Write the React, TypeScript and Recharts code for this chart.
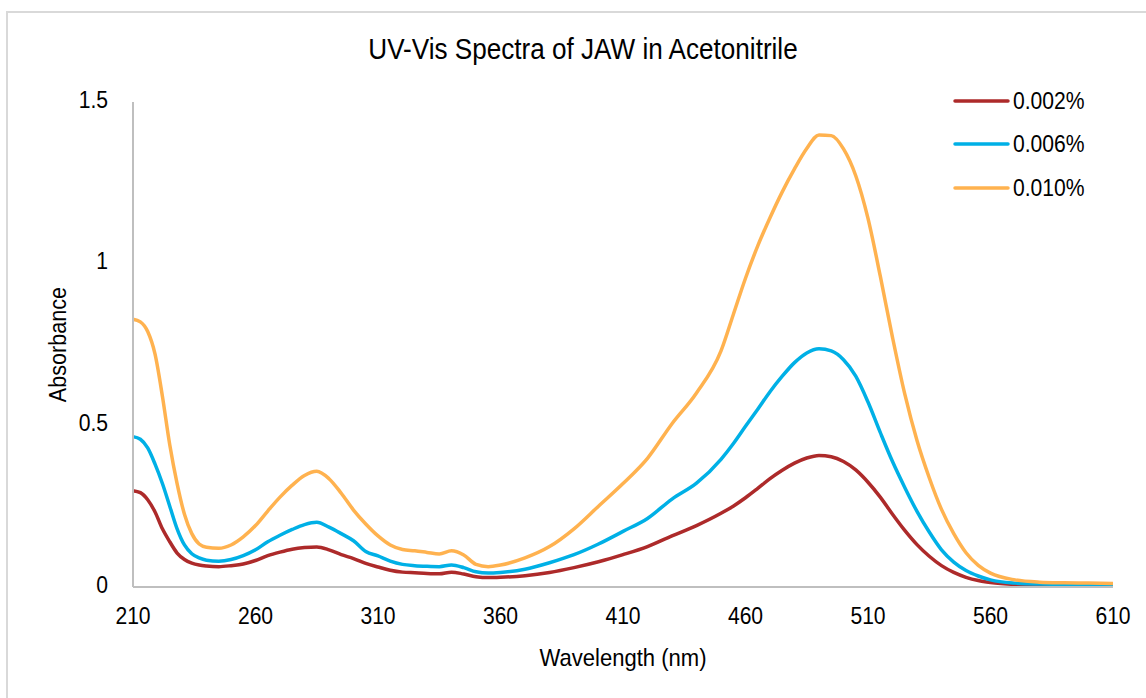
import { LineChart, Line, XAxis, YAxis, Legend } from 'recharts';

const wavelengths = [
  210, 213, 216, 219, 222, 225, 228, 231, 234, 237, 240, 245, 250, 255, 260, 265, 270, 275, 280, 285,
  290, 295, 300, 305, 310, 315, 320, 325, 330, 335, 340, 345, 350, 355, 360, 370, 380, 390, 400, 410,
  420, 430, 440, 450, 455, 460, 465, 470, 475, 480, 485, 490, 495, 500, 505, 510, 515, 520, 525, 530,
  535, 540, 545, 550, 555, 560, 570, 580, 590, 600, 610,
];

const conc002 = [
  0.298, 0.292, 0.27, 0.232, 0.18, 0.14, 0.105, 0.085, 0.074, 0.068, 0.065, 0.063, 0.066, 0.071, 0.082, 0.097, 0.108, 0.117, 0.122, 0.124,
  0.115, 0.1, 0.088, 0.073, 0.062, 0.052, 0.046, 0.044, 0.042, 0.041, 0.046, 0.04, 0.032, 0.029, 0.03, 0.035, 0.045, 0.06, 0.078, 0.1,
  0.125, 0.158, 0.19, 0.228, 0.25, 0.276, 0.305, 0.335, 0.361, 0.383, 0.399, 0.407, 0.403, 0.388, 0.362, 0.324, 0.278, 0.225, 0.175, 0.131,
  0.095, 0.066, 0.045, 0.03, 0.02, 0.014, 0.008, 0.006, 0.005, 0.005, 0.005,
];

const conc006 = [
  0.465, 0.457, 0.43, 0.38, 0.32, 0.25, 0.18, 0.13, 0.103, 0.09, 0.083, 0.08, 0.085, 0.097, 0.115, 0.14, 0.16, 0.178, 0.193, 0.2,
  0.185, 0.165, 0.143, 0.11, 0.096, 0.08, 0.07, 0.066, 0.064, 0.063, 0.068, 0.06, 0.047, 0.043, 0.045, 0.055, 0.075, 0.1, 0.133, 0.172,
  0.212, 0.272, 0.321, 0.395, 0.443, 0.497, 0.55, 0.604, 0.652, 0.694, 0.724, 0.737, 0.73, 0.703, 0.652, 0.572, 0.478, 0.388, 0.308, 0.234,
  0.17, 0.115, 0.077, 0.051, 0.034, 0.022, 0.012, 0.009, 0.008, 0.008, 0.008,
];

const conc010 = [
  0.828, 0.82, 0.79, 0.72, 0.59, 0.44, 0.32, 0.225, 0.165, 0.133, 0.123, 0.12, 0.13, 0.155, 0.19, 0.235, 0.278, 0.315, 0.345, 0.358,
  0.335, 0.29, 0.238, 0.195, 0.158, 0.13, 0.116, 0.112, 0.107, 0.102, 0.112, 0.099, 0.07, 0.063, 0.068, 0.09, 0.125, 0.18, 0.25, 0.32,
  0.398, 0.505, 0.6, 0.73, 0.842, 0.955, 1.055, 1.142, 1.222, 1.293, 1.356, 1.398, 1.396, 1.355, 1.272, 1.14, 0.962, 0.772, 0.597, 0.453,
  0.338, 0.24, 0.165, 0.106, 0.067, 0.043, 0.022, 0.015, 0.013, 0.012, 0.011,
];

const xTicks = [210, 260, 310, 360, 410, 460, 510, 560, 610];
const yTicks = [0, 0.5, 1, 1.5];

const seriesNames = ['0.002%', '0.006%', '0.010%'];
const seriesKeys = ['c002', 'c006', 'c010'];
const seriesColors = ['#AD2A2A', '#00B0E6', '#FFB24F'];

const FONT = "'Liberation Sans Narrow', 'Arial Narrow', 'Liberation Sans', Arial, sans-serif";
const SQUEEZE = 0.88;

const data = wavelengths.map((w, i) => ({
  wl: w,
  c002: conc002[i],
  c006: conc006[i],
  c010: conc010[i],
}));

const XTick = ({ x, y, payload }: any) => (
  <text
    transform={`translate(${x},${y}) scale(${SQUEEZE},1)`}
    textAnchor="middle"
    dy="0.71em"
    fill="#000"
    fontSize={24}
    fontFamily={FONT}
  >
    {payload.value}
  </text>
);

const YTick = ({ x, y, payload }: any) => (
  <text
    transform={`translate(${x},${y - 3}) scale(${SQUEEZE},1)`}
    textAnchor="end"
    dy="0.355em"
    fill="#000"
    fontSize={24}
    fontFamily={FONT}
  >
    {payload.value}
  </text>
);

const XTitle = ({ viewBox }: any) => {
  const cx = viewBox.x + viewBox.width / 2;
  const cy = viewBox.y + 70;
  return (
    <text
      transform={`translate(${cx},${cy}) scale(${SQUEEZE + 0.04},1)`}
      textAnchor="middle"
      dy="0.355em"
      fill="#000"
      fontSize={24}
      fontFamily={FONT}
    >
      Wavelength (nm)
    </text>
  );
};

const YTitle = ({ viewBox }: any) => {
  const cx = 57;
  const cy = viewBox.y + viewBox.height / 2;
  return (
    <text
      transform={`translate(${cx},${cy}) rotate(-90) scale(${SQUEEZE + 0.02},1)`}
      textAnchor="middle"
      dy="0.355em"
      fill="#000"
      fontSize={24}
      fontFamily={FONT}
    >
      Absorbance
    </text>
  );
};

const LegendBox = () => (
  <div style={{ fontFamily: FONT, fontSize: 24, color: '#000' }}>
    {seriesNames.map((name, i) => (
      <div key={name} style={{ display: 'flex', alignItems: 'center', height: 43.5 }}>
        <svg width={58} height={10} style={{ display: 'block' }}>
          <line x1={2} y1={5} x2={55} y2={5} stroke={seriesColors[i]} strokeWidth={3.5} strokeLinecap="round" />
        </svg>
        <span style={{ marginLeft: 2, display: 'inline-block', transform: `scaleX(${SQUEEZE})`, transformOrigin: 'left center' }}>
          {name}
        </span>
      </div>
    ))}
  </div>
);

export default function App() {
  return (
    <div style={{ position: 'absolute', left: 0, top: 0, width: 1146, height: 698, background: '#fff', overflow: 'hidden' }}>
      <div
        style={{
          position: 'absolute',
          left: 6,
          top: 11,
          width: 1160,
          height: 700,
          borderTop: '2px solid #d9d9d9',
          borderLeft: '2px solid #d9d9d9',
        }}
      />
      <div
        style={{
          position: 'absolute',
          left: 0,
          width: 1166,
          top: 33,
          textAlign: 'center',
          fontFamily: FONT,
          fontSize: 29,
          color: '#000',
          transform: 'scaleX(0.9)',
          transformOrigin: '583px 0',
        }}
      >
        UV-Vis Spectra of JAW in Acetonitrile
      </div>
      <div style={{ position: 'absolute', left: 0, top: 0 }}>
        <LineChart
          width={1146}
          height={698}
          data={data}
          margin={{ top: 102, right: 33, bottom: 81, left: 73 }}
        >
          <XAxis
            dataKey="wl"
            type="number"
            domain={[210, 610]}
            ticks={xTicks}
            height={30}
            stroke="#bfbfbf"
            strokeWidth={2}
            tickLine={false}
            tickSize={0}
            tickMargin={20}
            tick={<XTick />}
            label={<XTitle />}
          />
          <YAxis
            type="number"
            domain={[0, 1.5]}
            ticks={yTicks}
            width={60}
            stroke="#bfbfbf"
            strokeWidth={2}
            tickLine={false}
            tickSize={0}
            tickMargin={25}
            tick={<YTick />}
            label={<YTitle />}
          />
          <Legend
            layout="vertical"
            align="center"
            verticalAlign="middle"
            wrapperStyle={{ left: 953, top: 79, width: 190 }}
            content={<LegendBox />}
          />
          {seriesKeys.map((k, i) => (
            <Line
              key={k}
              type="monotone"
              dataKey={k}
              name={seriesNames[i]}
              stroke={seriesColors[i]}
              strokeWidth={3.5}
              dot={false}
              activeDot={false}
              isAnimationActive={false}
            />
          ))}
        </LineChart>
      </div>
    </div>
  );
}
